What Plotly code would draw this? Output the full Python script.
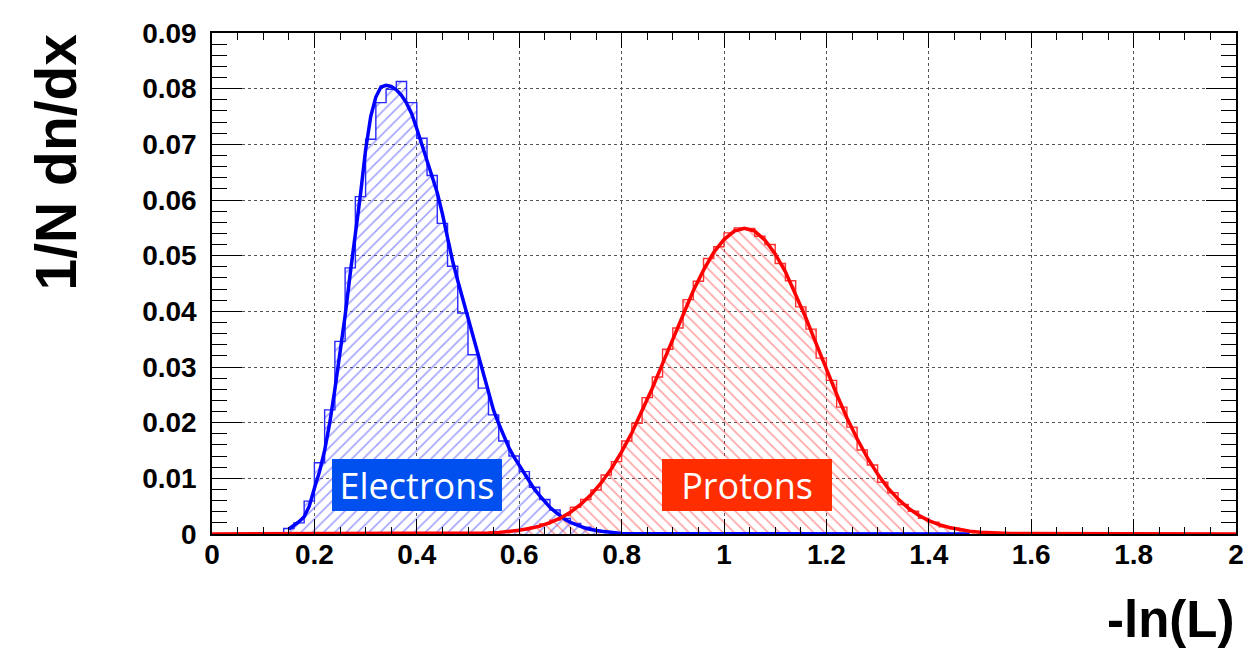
import plotly.graph_objects as go

# ---------------- data ----------------
BIN_W = 0.02

e_bin_lo = [0.14, 0.16, 0.18, 0.20, 0.22, 0.24, 0.26, 0.28, 0.30, 0.32, 0.34,
            0.36, 0.38, 0.40, 0.42, 0.44, 0.46, 0.48, 0.50, 0.52, 0.54, 0.56,
            0.58, 0.60, 0.62, 0.64, 0.66, 0.68, 0.70, 0.72, 0.74, 0.76, 0.78]
e_hist = [0.0010, 0.0020, 0.0059, 0.0128, 0.0223, 0.0346, 0.0478, 0.0606, 0.0709,
          0.0775, 0.0799, 0.0813, 0.0775, 0.0711, 0.0644, 0.0558, 0.0481, 0.0397,
          0.0322, 0.0262, 0.0214, 0.0167, 0.0140, 0.0112, 0.0084, 0.0062, 0.0043,
          0.0028, 0.0019, 0.0012, 0.0007, 0.0004, 0.0002]

p_bin_lo = [0.54, 0.56, 0.58, 0.60, 0.62, 0.64, 0.66, 0.68, 0.70, 0.72,
            0.74, 0.76, 0.78, 0.80, 0.82, 0.84, 0.86, 0.88, 0.90, 0.92,
            0.94, 0.96, 0.98, 1.00, 1.02, 1.04, 1.06, 1.08, 1.10, 1.12,
            1.14, 1.16, 1.18, 1.20, 1.22, 1.24, 1.26, 1.28, 1.30, 1.32,
            1.34, 1.36, 1.38, 1.40, 1.42, 1.44, 1.46, 1.48, 1.50, 1.52]
p_hist = [0.0002, 0.0004, 0.0005, 0.0008, 0.0012, 0.0018, 0.0025, 0.0033, 0.0048, 0.0062,
          0.0079, 0.0106, 0.0130, 0.0167, 0.0199, 0.0245, 0.0282, 0.0332, 0.0370, 0.0421,
          0.0454, 0.0495, 0.0516, 0.0541, 0.0550, 0.0549, 0.0535, 0.0520, 0.0486, 0.0455,
          0.0408, 0.0368, 0.0316, 0.0276, 0.0228, 0.0192, 0.0151, 0.0124, 0.0093, 0.0074,
          0.0053, 0.0041, 0.0028, 0.0021, 0.0013, 0.0010, 0.0006, 0.0004, 0.0002, 0.0001]

e_fit_x = [0.15, 0.16, 0.17, 0.18, 0.19, 0.20, 0.21, 0.22, 0.23, 0.24, 0.25, 0.26,
           0.27, 0.28, 0.29, 0.30, 0.31, 0.32, 0.33, 0.34, 0.35, 0.36, 0.37, 0.38,
           0.39, 0.40, 0.41, 0.42, 0.43, 0.44, 0.45, 0.46, 0.47, 0.48, 0.49, 0.50,
           0.51, 0.52, 0.53, 0.54, 0.55, 0.56, 0.57, 0.58, 0.59, 0.60, 0.61, 0.62,
           0.63, 0.64, 0.65, 0.66, 0.67, 0.68, 0.69, 0.70, 0.71, 0.72, 0.73, 0.74,
           0.75, 0.76, 0.77, 0.78, 0.79, 0.80, 1.48]
e_fit_y = [0.0009, 0.0015, 0.0022, 0.0031, 0.0050, 0.0082, 0.0112, 0.0150, 0.0200, 0.0260,
           0.0325, 0.0392, 0.0468, 0.0535, 0.0610, 0.0690, 0.0750, 0.0785, 0.0803, 0.0806,
           0.0804, 0.0798, 0.0788, 0.0774, 0.0755, 0.0728, 0.0700, 0.0670, 0.0642, 0.0613,
           0.0575, 0.0530, 0.0490, 0.0455, 0.0421, 0.0387, 0.0354, 0.0320, 0.0285, 0.0252,
           0.0222, 0.0198, 0.0175, 0.0155, 0.0138, 0.0124, 0.0108, 0.0094, 0.0080, 0.0069,
           0.0058, 0.0048, 0.0040, 0.0032, 0.0026, 0.0021, 0.0017, 0.0013, 0.0010, 0.0008,
           0.0006, 0.0005, 0.0004, 0.0003, 0.0002, 0.0001, 0.0]

p_fit_x = [0.00, 0.50, 0.52, 0.54, 0.56, 0.58, 0.60, 0.62, 0.64, 0.66, 0.68, 0.70,
           0.72, 0.74, 0.76, 0.78, 0.80, 0.82, 0.84, 0.86, 0.88, 0.90, 0.92, 0.94,
           0.96, 0.98, 1.00, 1.02, 1.04, 1.06, 1.08, 1.10, 1.12, 1.14, 1.16, 1.18,
           1.20, 1.22, 1.24, 1.26, 1.28, 1.30, 1.32, 1.34, 1.36, 1.38, 1.40, 1.42,
           1.44, 1.46, 1.48, 1.50, 1.52, 1.54, 1.56, 2.00]
p_fit_y = [0.0, 0.00007, 0.00011, 0.00018, 0.00029, 0.00044, 0.00066, 0.00098, 0.00142,
           0.00203, 0.00285, 0.00392, 0.0053, 0.00704, 0.00917, 0.01173, 0.01474, 0.01818,
           0.02203, 0.02619, 0.0306, 0.0351, 0.0395, 0.0437, 0.0474, 0.0506, 0.0529, 0.0544,
           0.0549, 0.0544, 0.0528, 0.0503, 0.0471, 0.0431, 0.0388, 0.0342, 0.0296, 0.0251,
           0.0209, 0.0171, 0.0137, 0.01076, 0.00829, 0.00627, 0.00465, 0.00338, 0.00241,
           0.00169, 0.00116, 0.00078, 0.00051, 0.00033, 0.0002, 0.00013, 0.00008, 0.0]

x_tick_vals = [0, 0.2, 0.4, 0.6, 0.8, 1.0, 1.2, 1.4, 1.6, 1.8, 2.0]
x_tick_text = ["0", "0.2", "0.4", "0.6", "0.8", "1", "1.2", "1.4", "1.6", "1.8", "2"]
y_tick_vals = [0, 0.01, 0.02, 0.03, 0.04, 0.05, 0.06, 0.07, 0.08, 0.09]
y_tick_text = ["0", "0.01", "0.02", "0.03", "0.04", "0.05", "0.06", "0.07", "0.08", "0.09"]

labels = ["Electrons", "Protons"]
label_x = [0.400, 1.0455]
label_y = [0.0088, 0.0088]
label_colors = ["#0050f0", "#ff2d00"]

x_title = "-ln(L)"
y_title = "1/N dn/dx"


def step_outline(lo, vals, w):
    xs, ys = [lo[0]], [0.0]
    for l, v in zip(lo, vals):
        xs += [l, l + w]
        ys += [v, v]
    xs.append(lo[-1] + w)
    ys.append(0.0)
    return xs, ys


fig = go.Figure()

ex, ey = step_outline(e_bin_lo, e_hist, BIN_W)
px_, py_ = step_outline(p_bin_lo, p_hist, BIN_W)

fig.add_trace(go.Scatter(
    x=ex, y=ey, mode="lines", line=dict(color="rgb(40,40,255)", width=1.4),
    fill="tozeroy", fillcolor="rgba(0,0,0,0)",
    fillpattern=dict(shape="/", fgcolor="rgb(70,70,255)", bgcolor="rgba(0,0,0,0)",
                     size=8, solidity=0.2),
    hoverinfo="skip", showlegend=False))

fig.add_trace(go.Scatter(
    x=px_, y=py_, mode="lines", line=dict(color="rgb(255,50,50)", width=1.4),
    fill="tozeroy", fillcolor="rgba(0,0,0,0)",
    fillpattern=dict(shape="\\", fgcolor="rgb(255,70,70)", bgcolor="rgba(0,0,0,0)",
                     size=8, solidity=0.2),
    hoverinfo="skip", showlegend=False))

fig.add_trace(go.Scatter(x=e_fit_x, y=e_fit_y, mode="lines",
                         line=dict(color="#0000ff", width=3.5),
                         hoverinfo="skip", showlegend=False))
fig.add_trace(go.Scatter(x=p_fit_x, y=p_fit_y, mode="lines",
                         line=dict(color="#ff0000", width=3.5),
                         hoverinfo="skip", showlegend=False))

tick_font = dict(family="Liberation Sans, Arial", size=28, color="black", weight="bold")

fig.update_xaxes(
    range=[0, 2], tickmode="array", tickvals=x_tick_vals, ticktext=x_tick_text,
    ticks="inside", ticklen=15, tickwidth=1,
    tickcolor="black", showline=True, linecolor="black", linewidth=1.5, mirror="ticks",
    showgrid=True, gridcolor="#555555", griddash="dot", gridwidth=1, zeroline=False,
    tickfont=tick_font, ticklabelstandoff=-5, ticklabeloverflow="allow", automargin=False,
    minor=dict(dtick=0.05, tick0=0, ticks="inside", ticklen=7, tickcolor="black",
               showgrid=False),
)
fig.update_yaxes(
    range=[0, 0.09], tickmode="array", tickvals=y_tick_vals, ticktext=y_tick_text,
    ticks="inside", ticklen=30, tickwidth=1,
    tickcolor="black", showline=True, linecolor="black", linewidth=1.5, mirror="ticks",
    showgrid=True, gridcolor="#555555", griddash="dot", gridwidth=1, zeroline=False,
    tickfont=tick_font, ticklabelstandoff=8, ticklabeloverflow="allow", automargin=False,
    minor=dict(dtick=0.002, tick0=0, ticks="inside", ticklen=15, tickcolor="black",
               showgrid=False),
)

for t, x, y, c in zip(labels, label_x, label_y, label_colors):
    fig.add_annotation(x=x, y=y, xref="x", yref="y", text=t, showarrow=False,
                       font=dict(family="Open Sans", size=36, color="white"),
                       bgcolor=c, width=158, height=40, borderpad=6, borderwidth=0)

fig.add_annotation(x=-0.1514, y=1.004, xref="paper", yref="paper", text=y_title,
                   textangle=-90, showarrow=False, xanchor="center", yanchor="top",
                   font=dict(family="Liberation Sans, Arial", size=57, color="black",
                             weight="bold"))
fig.add_annotation(x=1.0, y=-0.17, xref="paper", yref="paper", text=x_title,
                   showarrow=False, xanchor="right", yanchor="middle",
                   font=dict(family="Liberation Sans, Arial", size=51, color="black",
                             weight="bold"))

fig.update_layout(
    width=1243, height=652,
    margin=dict(l=212, r=7, t=33, b=118, autoexpand=False),
    plot_bgcolor="white", paper_bgcolor="white",
    showlegend=False,
)

fig.write_html("out.html", config={"displayModeBar": False},
               post_script="document.body.style.margin='0';document.body.style.overflow='hidden';")
